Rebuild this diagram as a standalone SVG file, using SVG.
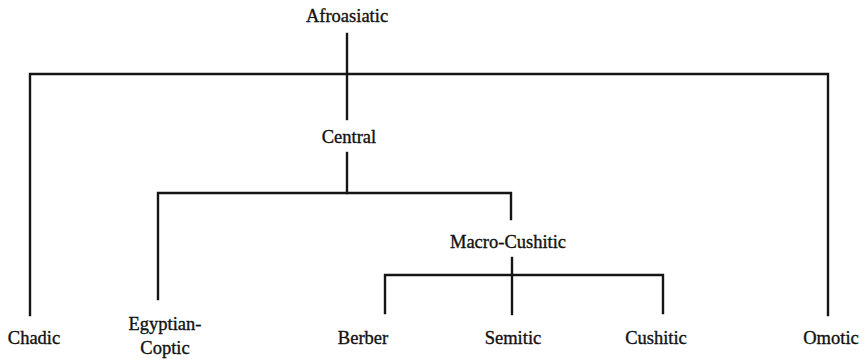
<svg xmlns="http://www.w3.org/2000/svg" width="866" height="362" viewBox="0 0 866 362">
  <style>
    .lbl { font-family: "Liberation Serif", "Times New Roman", serif; font-size: 18.5px; fill: #111; stroke: #111; stroke-width: 0.35; text-anchor: middle; }
    .edge { stroke: #151515; stroke-width: 2.4; fill: none; stroke-linejoin: miter; stroke-linecap: square; }
  </style>
  <rect width="866" height="362" fill="#ffffff"/>

  <g id="connectors">
    <!-- Afroasiatic split -->
    <path class="edge" d="M347 34 V74"/>
    <path class="edge" d="M30 315 V74 H828 V315"/>
    <path class="edge" d="M347 74 V119"/>
    <!-- Central split -->
    <path class="edge" d="M347 153 V193"/>
    <path class="edge" d="M158 299 V193 H511 V219"/>
    <!-- Macro-Cushitic split -->
    <path class="edge" d="M512 258 V314"/>
    <path class="edge" d="M385 313 V275 H663 V313"/>
  </g>

  <g id="afroasiatic"><text class="lbl" x="347" y="22">Afroasiatic</text></g>
  <g id="central"><text class="lbl" x="349" y="143">Central</text></g>
  <g id="macro-cushitic"><text class="lbl" x="508" y="248">Macro-Cushitic</text></g>
  <g id="chadic"><text class="lbl" x="34" y="344">Chadic</text></g>
  <g id="egyptian-coptic">
    <text class="lbl" x="165" y="330">Egyptian-</text>
    <text class="lbl" x="165" y="354">Coptic</text>
  </g>
  <g id="berber"><text class="lbl" x="363" y="344">Berber</text></g>
  <g id="semitic"><text class="lbl" x="513" y="344">Semitic</text></g>
  <g id="cushitic"><text class="lbl" x="656" y="344">Cushitic</text></g>
  <g id="omotic"><text class="lbl" x="831" y="344">Omotic</text></g>
</svg>
